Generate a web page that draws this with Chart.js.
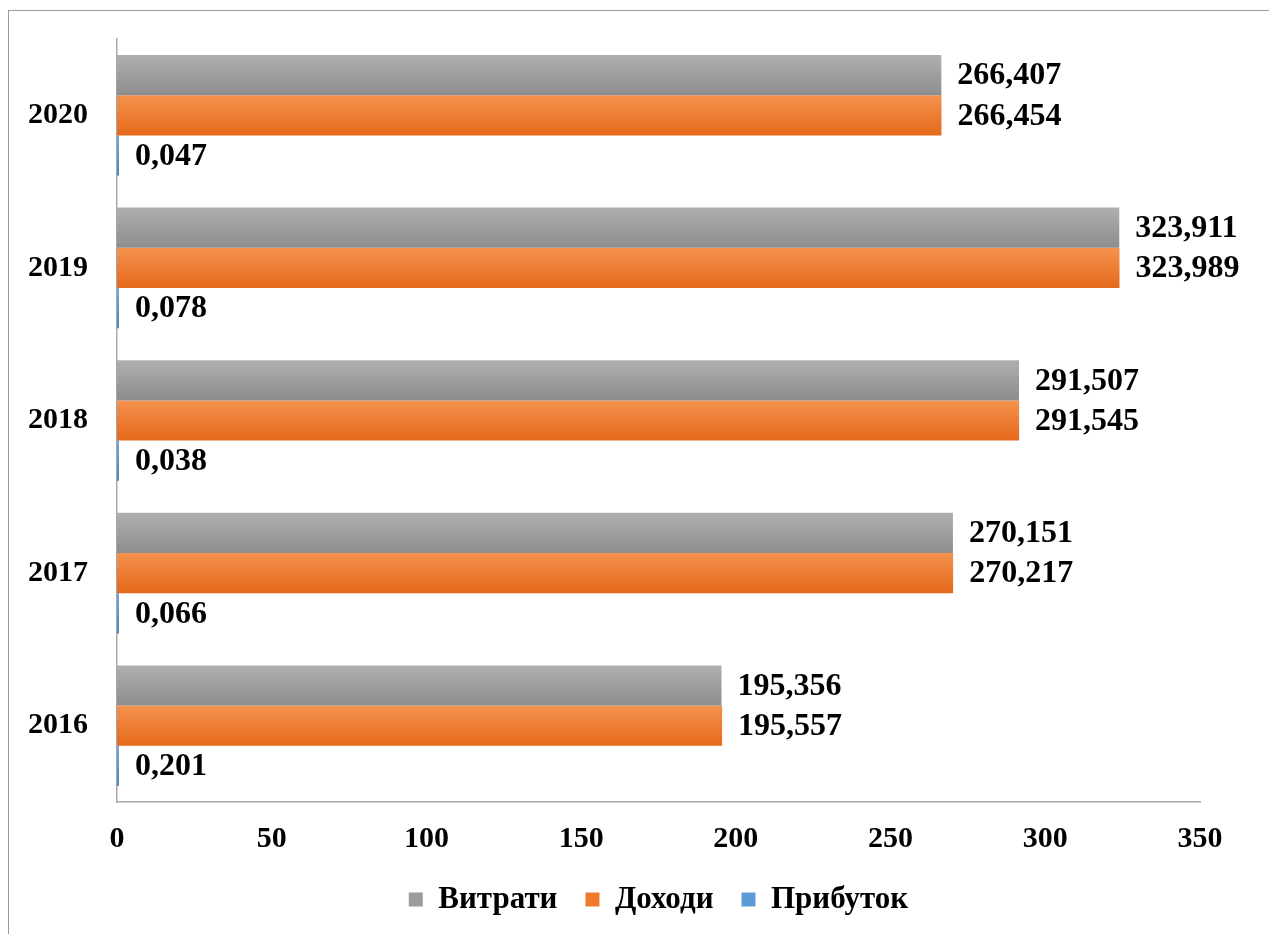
<!DOCTYPE html>
<html>
<head>
<meta charset="utf-8">
<script src="https://cdn.jsdelivr.net/npm/chart.js@4/dist/chart.umd.min.js"></script>
<style>
  html, body { margin: 0; padding: 0; background: #fff; overflow: hidden; }
  #frame {
    position: absolute; left: 8px; top: 10px; width: 1400px; height: 1000px;
    border-left: 1.5px solid #9a9a9a; border-top: 1.5px solid #9a9a9a;
  }
  #wrap { position: absolute; left: 0; top: 0; width: 1269px; height: 934px; }
</style>
</head>
<body>
<div id="frame"></div>
<div id="wrap"><canvas id="my-chart" width="1269" height="934"></canvas></div>
<script>
const labels = ['2020', '2019', '2018', '2017', '2016'];
const seriesNames = ['Витрати', 'Доходи', 'Прибуток'];
const vytraty = [266.407, 323.911, 291.507, 270.151, 195.356];
const dokhody = [266.454, 323.989, 291.545, 270.217, 195.557];
const prybutok = [0.047, 0.078, 0.038, 0.066, 0.201];
const xTicks = [0, 50, 100, 150, 200, 250, 300, 350];

const FONT = "'Liberation Serif', 'Times New Roman', serif";
const solid = ['#9c9c9c', '#ef7a2c', '#5b9bd5'];
const stops = [
  ['#afafaf', '#8d8d8d'],
  ['#f4924f', '#e5691a'],
  ['#6ea9df', '#4a88c6']
];
const catPct = 0.79;

// vertical gradient across each bar's thickness, positions taken from the y scale
function barColor(c) {
  const chart = c.chart;
  const y = chart.scales && chart.scales.y;
  const ds = c.datasetIndex;
  if (!y || !chart.chartArea || c.type !== 'data') return solid[ds];
  const band = (y.bottom - y.top) / labels.length;
  const group = band * catPct;
  const thick = group / seriesNames.length;
  const center = y.getPixelForValue(c.dataIndex);
  const top = center - group / 2 + ds * thick;
  const g = chart.ctx.createLinearGradient(0, top, 0, top + thick);
  g.addColorStop(0, stops[ds][0]);
  g.addColorStop(1, stops[ds][1]);
  return g;
}

const fmt = v => v.toFixed(3).replace('.', ',');

const valueLabels = {
  id: 'valueLabels',
  afterDatasetsDraw(chart) {
    const ctx = chart.ctx;
    ctx.save();
    ctx.font = 'bold 32px ' + FONT;
    ctx.fillStyle = '#000';
    ctx.textAlign = 'left';
    ctx.textBaseline = 'middle';
    chart.data.datasets.forEach((d, i) => {
      chart.getDatasetMeta(i).data.forEach((el, j) => {
        ctx.fillText(fmt(d.data[j]), el.x + 16, el.y + 1);
      });
    });
    ctx.restore();
  }
};

const data = {
  labels: labels,
  datasets: [
    { label: seriesNames[0], data: vytraty, backgroundColor: barColor },
    { label: seriesNames[1], data: dokhody, backgroundColor: barColor },
    { label: seriesNames[2], data: prybutok, backgroundColor: barColor, minBarLength: 2 }
  ]
};

const config = {
  type: 'bar',
  data,
  plugins: [valueLabels],
  options: {
    indexAxis: 'y',
    responsive: false,
    animation: false,
    categoryPercentage: catPct,
    barPercentage: 1,
    layout: { padding: { top: 39, right: 69, bottom: 9, left: 28 } },
    scales: {
      x: {
        min: 0,
        max: 350,
        afterBuildTicks: axis => { axis.ticks = xTicks.map(v => ({ value: v })); },
        afterFit: axis => { axis.height = 54; },
        grid: { display: false, drawTicks: false },
        border: { display: true, color: '#a8a8a8', width: 1.5 },
        ticks: { padding: 19, color: '#000', font: { family: FONT, size: 30, weight: 'bold' } }
      },
      y: {
        afterFit: axis => { axis.width = 89; },
        grid: { display: false, drawTicks: false },
        border: { display: true, color: '#a8a8a8', width: 1.5 },
        ticks: { padding: 0, crossAlign: 'far', color: '#000', font: { family: FONT, size: 30, weight: 'bold' } }
      }
    },
    plugins: {
      tooltip: { enabled: false },
      legend: {
        position: 'bottom',
        fullSize: false,
        labels: {
          boxWidth: 14,
          boxHeight: 14,
          padding: 28,
          color: '#000',
          font: { family: FONT, size: 31, weight: 'bold' },
          generateLabels: chart => Chart.defaults.plugins.legend.labels.generateLabels(chart).map((l, i) => {
            l.fillStyle = solid[i];
            l.strokeStyle = solid[i];
            l.lineWidth = 0;
            return l;
          })
        }
      }
    }
  }
};

new Chart(document.getElementById('my-chart'), config);
</script>
</body>
</html>
